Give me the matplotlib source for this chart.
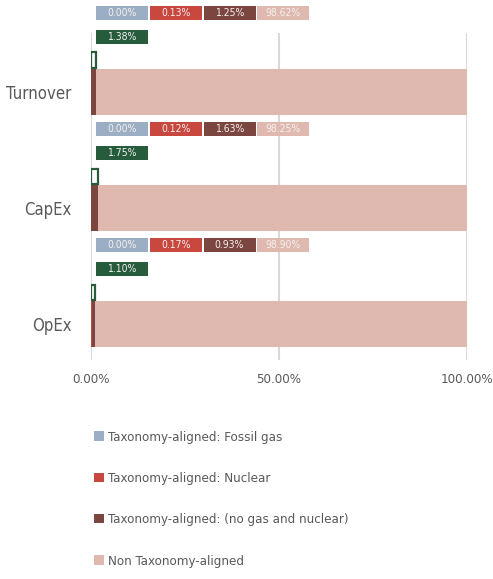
import matplotlib
matplotlib.use("Agg")
import matplotlib.pyplot as plt
from matplotlib.patches import Rectangle, Patch

# ----------------------------------------------------------------------------
# Data
# ----------------------------------------------------------------------------
categories = ["Turnover", "CapEx", "OpEx"]
fossil_gas = [0.00, 0.00, 0.00]
nuclear = [0.13, 0.12, 0.17]
no_gas_nuclear = [1.25, 1.63, 0.93]
non_aligned = [98.62, 98.25, 98.90]
total_aligned = [1.38, 1.75, 1.10]

series_names = [
    "Taxonomy-aligned: Fossil gas",
    "Taxonomy-aligned: Nuclear",
    "Taxonomy-aligned: (no gas and nuclear)",
    "Non Taxonomy-aligned",
]
series_colors = ["#9caec3", "#c8473f", "#7b4540", "#dfb9b0"]
green = "#265b3b"
text_grey = "#595959"

plt.rcParams["font.family"] = ["DejaVu Sans"]
plt.rcParams["font.stretch"] = "condensed"

# ----------------------------------------------------------------------------
# Figure
# ----------------------------------------------------------------------------
fig = plt.figure(figsize=(4.93, 5.79), dpi=100)
ax = fig.add_axes([0.1846, 0.378, 0.7626, 0.565])

ypos = list(range(len(categories)))
bar_h = 0.397
green_h = 0.13
green_off = -0.276

# stacked main bars
left = [0.0] * len(categories)
for name, vals, col in zip(
    series_names, [fossil_gas, nuclear, no_gas_nuclear, non_aligned], series_colors
):
    ax.barh(ypos, vals, left=left, height=bar_h, color=col, edgecolor="none")
    left = [a + b for a, b in zip(left, vals)]

# total aligned (outlined)
ax.barh(
    [y + green_off for y in ypos],
    total_aligned,
    height=green_h,
    facecolor="none",
    edgecolor=green,
    linewidth=1.6,
)

# data label boxes
box_w = 13.83
box_h = 0.1207
box_x0 = 1.33
box_step = 14.3
for i, y in enumerate(ypos):
    vals = [fossil_gas[i], nuclear[i], no_gas_nuclear[i], non_aligned[i]]
    for j, (v, col) in enumerate(zip(vals, series_colors)):
        x0 = box_x0 + j * box_step
        ax.add_patch(Rectangle((x0, y - 0.681 - box_h / 2), box_w, box_h,
                               facecolor=col, edgecolor="none", clip_on=False))
        ax.text(x0 + box_w / 2, y - 0.681, f"{v:.2f}%", ha="center", va="center",
                fontsize=7.5, color="#f4f0ee", clip_on=False)
    ax.add_patch(Rectangle((box_x0, y - 0.478 - box_h / 2), box_w, box_h,
                           facecolor=green, edgecolor="none", clip_on=False))
    ax.text(box_x0 + box_w / 2, y - 0.478, f"{total_aligned[i]:.2f}%", ha="center",
            va="center", fontsize=7.5, color="#f0f0f0", clip_on=False)

ax.set_xlim(0, 100)
ax.set_ylim(2.31, -0.509)
ax.set_yticks(ypos)
ax.set_yticklabels(categories, fontsize=12, color=text_grey)
ax.set_xticks([0, 50, 100])
ax.set_xticklabels(["0.00%", "50.00%", "100.00%"], fontsize=9.5, color=text_grey)
ax.tick_params(length=0)
ax.tick_params(axis="y", pad=14)
ax.tick_params(axis="x", pad=9)
for s in ax.spines.values():
    s.set_visible(False)
ax.grid(axis="x", color="#d9d9d9", linewidth=1.5)
ax.set_axisbelow(True)

handles = [Patch(facecolor=c, edgecolor="none") for c in series_colors]
fig.legend(
    handles,
    series_names,
    loc="upper left",
    bbox_to_anchor=(0.178, 1 - 424 / 579),
    frameon=False,
    fontsize=9.5,
    labelcolor=text_grey,
    handlelength=0.7,
    handleheight=0.7,
    handletextpad=0.3,
    labelspacing=2.15,
    borderpad=0,
)

fig.savefig("out.png", dpi=100)
plt.close(fig)
